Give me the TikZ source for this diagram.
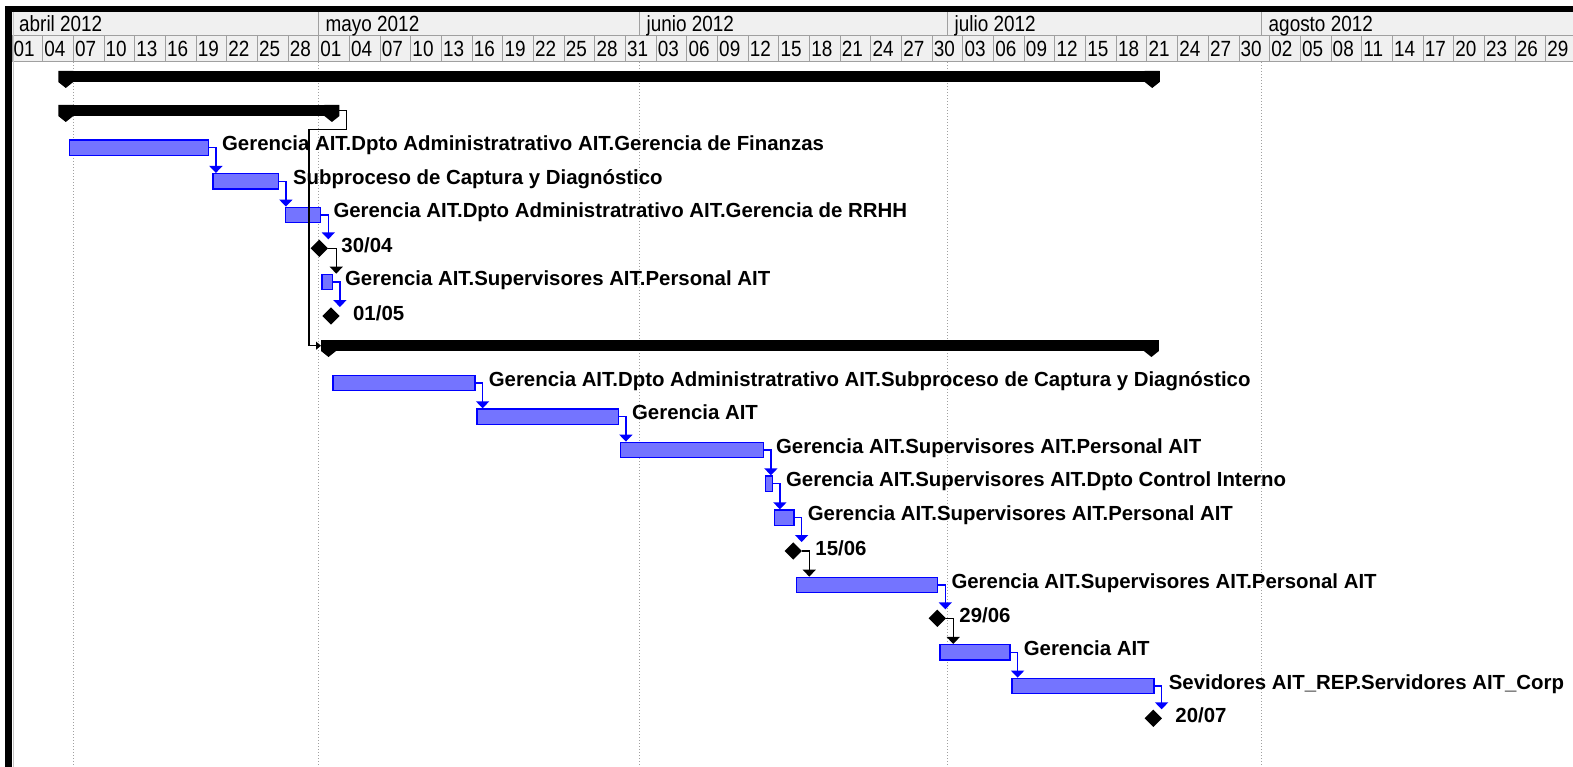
\documentclass[tikz,border=0pt]{standalone}
\usepackage{fontspec}
\setmainfont{Liberation Sans}
\newfontfamily\hdrfont{Liberation Sans}[FakeStretch=0.86]
\usetikzlibrary{arrows.meta,shapes.geometric}
\definecolor{hdrgray}{HTML}{F0F0F0}
\definecolor{gridgray}{HTML}{A0A0A0}
\definecolor{barblue}{HTML}{7474FF}
% caps at both ends of a summary bar
\newcommand\sumcaps[1]{%
  \fill (#1.north west) -- ++(15,0) -- ++(0,11) -- ++(-7.5,6) -- ++(-7.5,-6) -- cycle;
  \fill (#1.north east) -- ++(-15,0) -- ++(0,11) -- ++(7.5,6) -- ++(7.5,-6) -- cycle;}

\begin{document}
\begin{tikzpicture}[x=1pt, y=-1pt,
    bar/.style={rectangle, draw=blue, fill=barblue, line width=1.2pt, minimum height=15.5pt,
      inner sep=0pt, anchor=west},
    summ/.style={rectangle, fill=black, minimum height=11pt, inner sep=0pt, anchor=north west},
    mile/.style={diamond, fill=black, minimum size=17.5pt, inner sep=0pt},
    lbl/.style={anchor=base west, inner sep=0pt, font=\fontsize{20.4}{24}\selectfont\bfseries},
    hdr/.style={anchor=base west, inner sep=0pt, font=\hdrfont\fontsize{22}{24}\selectfont},
    blulink/.style={draw=blue, line width=1.5pt, -{Triangle[width=13pt,length=7pt]}},
    blklink/.style={draw=black, line width=1.5pt, -{Triangle[width=13pt,length=7pt]}}]
  \useasboundingbox (0,0) rectangle (1573,767);
  % \draw [help lines] grid(1573,767);
  % timescale
  \fill[hdrgray] (12,12) rectangle (1573,62);
  \draw[gridgray, line width=1pt] (12,36) -- (1573,36) (12,62) -- (1573,62);
  \foreach \mx in {318.5,639.5,947.5,1261.5}
    \draw[gridgray, line width=1pt] (\mx,12) -- (\mx,36);
  \foreach \mx/\mn in {12/abril,318.5/mayo,639.5/junio,947.5/julio,1261.5/agosto}
    \node[hdr] (mon-\mn) at (\mx+7,31.5) {\mn\ 2012};
  \foreach \d [count=\k from 0] in {01,04,07,10,13,16,19,22,25,28,
      01,04,07,10,13,16,19,22,25,28,31,03,06,09,12,15,18,21,24,27,30,
      03,06,09,12,15,18,21,24,27,30,02,05,08,11,14,17,20,23,26,29} {
    \draw[gridgray, line width=1pt] (12+30.675*\k,36) -- ++(0,26);
    \node[hdr] (day-\k) at (13.5+30.675*\k,57) {\d};
  }
  \foreach \gx in {73,318.5,639.5,947.5,1261.5}
    \draw[gridgray, line width=1pt, dash pattern=on 1pt off 2pt] (\gx,62) -- (\gx,767);
  \fill (6,6) rectangle (1573,12);
  \fill (5,6) rectangle (12,767);
  \draw[gridgray!60, line width=1pt] (13,12) -- (13,767);

  % summaries
  \node[summ, minimum width=1101pt] (s1) at (58.3,71) {}; \sumcaps{s1}
  \node[summ, minimum width=280.7pt] (s2) at (58.3,105) {}; \sumcaps{s2}
  \node[summ, minimum width=837.5pt] (s3) at (321,340) {}; \sumcaps{s3}

  % tasks
  \node[bar, minimum width=138.8pt] (t1) at (68.9,147.7) {};
  \node[bar, minimum width=65.4pt] (t2) at (212.3,181.3) {};
  \node[bar, minimum width=35.5pt] (t3) at (284.6,215) {};
  \node[mile] (m1) at (319.3,248.3) {};
  \node[bar, minimum width=10.4pt] (t4) at (321.3,282) {};
  \node[mile] (m2) at (331,316) {};
  \node[bar, minimum width=142.1pt] (t5) at (332.3,383) {};
  \node[bar, minimum width=141.4pt] (t6) at (476.3,416.7) {};
  \node[bar, minimum width=143.1pt] (t7) at (619.6,450) {};
  \node[bar, minimum width=7.1pt] (t8) at (764.6,483.7) {};
  \node[bar, minimum width=19.5pt] (t9) at (773.9,517.7) {};
  \node[mile] (m3) at (793.3,551) {};
  \node[bar, minimum width=141.5pt] (t10) at (795.6,585) {};
  \node[mile] (m4) at (937.3,618.3) {};
  \node[bar, minimum width=70.1pt] (t11) at (939.3,652.3) {};
  \node[bar, minimum width=142.1pt] (t12) at (1011.3,686) {};
  \node[mile] (m5) at (1153.3,718.3) {};

  % labels
  \node[lbl] (l1) at ([xshift=13pt,yshift=-3pt]t1.east) {Gerencia AIT.Dpto Administratrativo AIT.Gerencia de Finanzas};
  \node[lbl] (l2) at ([xshift=14pt,yshift=-3pt]t2.east) {Subproceso de Captura y Diagnóstico};
  \node[lbl] (l3) at ([xshift=12pt,yshift=-3pt]t3.east) {Gerencia AIT.Dpto Administratrativo AIT.Gerencia de RRHH};
  \node[lbl] (l4) at ([xshift=13pt,yshift=-4pt]m1.east) {30/04};
  \node[lbl] (l5) at ([xshift=12pt,yshift=-3pt]t4.east) {Gerencia AIT.Supervisores AIT.Personal AIT};
  \node[lbl] (l6) at ([xshift=13pt,yshift=-4pt]m2.east) {01/05};
  \node[lbl] (l7) at ([xshift=13pt,yshift=-3pt]t5.east) {Gerencia AIT.Dpto Administratrativo AIT.Subproceso de Captura y Diagnóstico};
  \node[lbl] (l8) at ([xshift=13pt,yshift=-3pt]t6.east) {Gerencia AIT};
  \node[lbl] (l9) at ([xshift=12pt,yshift=-3pt]t7.east) {Gerencia AIT.Supervisores AIT.Personal AIT};
  \node[lbl] (l10) at ([xshift=13pt,yshift=-3pt]t8.east) {Gerencia AIT.Supervisores AIT.Dpto Control Interno};
  \node[lbl] (l11) at ([xshift=13pt,yshift=-3pt]t9.east) {Gerencia AIT.Supervisores AIT.Personal AIT};
  \node[lbl] (l12) at ([xshift=13pt,yshift=-4pt]m3.east) {15/06};
  \node[lbl] (l13) at ([xshift=13pt,yshift=-3pt]t10.east) {Gerencia AIT.Supervisores AIT.Personal AIT};
  \node[lbl] (l14) at ([xshift=13pt,yshift=-4pt]m4.east) {29/06};
  \node[lbl] (l15) at ([xshift=13pt,yshift=-3pt]t11.east) {Gerencia AIT};
  \node[lbl] (l16) at ([xshift=14pt,yshift=-3pt]t12.east) {Sevidores AIT\_REP.Servidores AIT\_Corp};
  \node[lbl] (l17) at ([xshift=13pt,yshift=-4pt]m5.east) {20/07};

  % links
  \draw[black, line width=1.2pt, -{Triangle[width=8pt,length=5pt]}]
    (s2.east) -| ++(7,19) -| ([xshift=-12pt]s3.west) -- (s3.west);
  \draw[blulink] (t1.east) -- ++(7,0) coordinate (k) -- (k |- t2.north);
  \draw[blulink] (t2.east) -- ++(7,0) coordinate (k) -- (k |- t3.north);
  \draw[blulink] (t3.east) -- ++(7,0) coordinate (k) -- (k |- m1.north);
  \draw[blklink] (m1.east) -- ++(8,0) coordinate (k) -- (k |- t4.north);
  \draw[blulink] (t4.east) -- ++(7,0) coordinate (k) -- (k |- m2.north);
  \draw[blulink] (t5.east) -- ++(7,0) coordinate (k) -- (k |- t6.north);
  \draw[blulink] (t6.east) -- ++(7,0) coordinate (k) -- (k |- t7.north);
  \draw[blulink] (t7.east) -- ++(7,0) coordinate (k) -- (k |- t8.north);
  \draw[blulink] (t8.east) -- ++(7,0) coordinate (k) -- (k |- t9.north);
  \draw[blulink] (t9.east) -- ++(7,0) coordinate (k) -- (k |- m3.north);
  \draw[blklink] (m3.east) -- ++(7,0) coordinate (k) -- (k |- t10.north);
  \draw[blulink] (t10.east) -- ++(7,0) coordinate (k) -- (k |- m4.north);
  \draw[blklink] (m4.east) -- ++(7,0) coordinate (k) -- (k |- t11.north);
  \draw[blulink] (t11.east) -- ++(7,0) coordinate (k) -- (k |- t12.north);
  \draw[blulink] (t12.east) -- ++(7,0) coordinate (k) -- (k |- m5.north);
\end{tikzpicture}
\end{document}
